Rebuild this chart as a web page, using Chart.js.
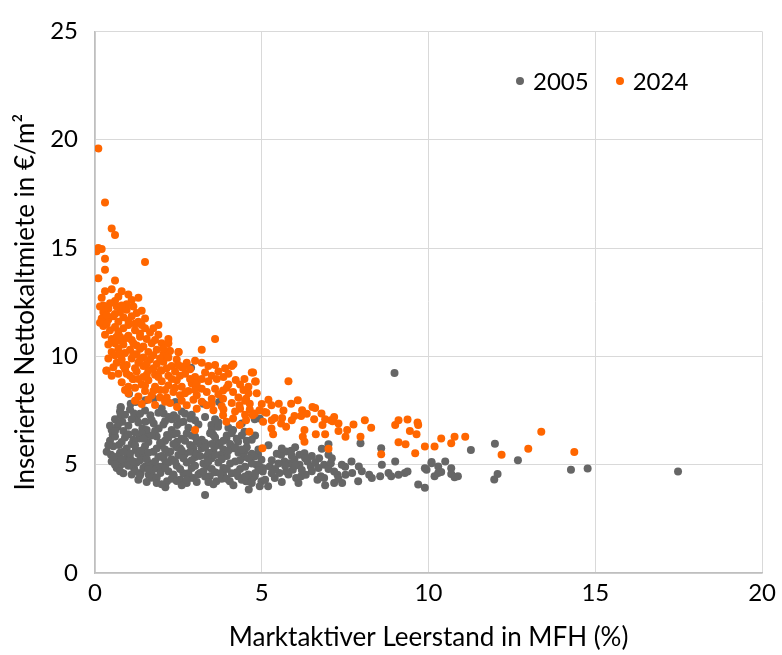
<!DOCTYPE html>
<html>
<head>
<meta charset="utf-8">
<script src="https://cdn.jsdelivr.net/npm/chart.js@4.4.1/dist/chart.umd.min.js"></script>
<style>
  html, body { margin: 0; padding: 0; background: #fff; }
  #wrap { position: relative; width: 782px; height: 655px; }
  #legend {
    position: absolute; left: 516px; top: 66px;
    font: 24px Lato, sans-serif; color: #000;
    display: flex; align-items: center;
  }
  #legend span.item { display: flex; align-items: center; margin-right: 27px; }
  #legend i { display: inline-block; width: 8px; height: 8px; border-radius: 50%; margin-right: 9px; }
</style>
</head>
<body>
<div id="wrap">
  <canvas id="chart" width="782" height="655"></canvas>
  <div id="legend"></div>
</div>
<script>
/* Marktaktiver Leerstand (x, %) vs. inserierte Nettokaltmiete (y, EUR/m2) */

const SERIES_NAMES = ["2005", "2024"];
const SERIES_COLORS = ["#666666", "#ff6600"];
const X_TICKS = [0, 5, 10, 15, 20];
const Y_TICKS = [0, 5, 10, 15, 20, 25];

const points2005 = [
  [8.98,9.23],[2.88,9.47],
  [11.27,5.68],[11.99,5.97],[12.68,5.2],[14.27,4.77],[14.77,4.82],[17.48,4.69],
  [10.09,5.12],[10.29,4.92],[10.5,5.15],[10.68,4.84],[10.38,4.66],[9.94,4.77],
  [10.68,4.57],[10.88,4.47],[10.78,4.42],[12.07,4.57],[11.97,4.32],
  [4.79,7.1],[7.96,5.99],[8.58,5.76],[7.0,5.94],[6.8,5.73],[7.0,5.46],
  [4.89,5.46],[4.99,5.23],[4.84,5.0],[5.04,4.84],[5.24,4.92],[4.79,4.47],[4.99,4.24],
  [5.19,4.01],[4.94,4.01],[5.39,4.39],[5.58,5.46],[5.73,5.61],[5.88,5.64],[5.68,5.15],
  [5.83,5.07],[5.98,5.23],[6.13,5.46],[6.28,5.53],[6.13,5.0],[6.37,5.15],[6.47,4.92],
  [5.93,4.77],[5.73,4.69],[5.53,4.62],[6.03,4.39],[6.18,4.47],[6.32,4.54],[6.72,5.3],
  [6.87,5.0],[7.07,5.07],[6.77,4.47],[6.67,4.31],[6.87,4.39],[7.17,4.69],[7.27,4.54],
  [7.17,4.16],[7.41,4.16],[7.51,4.54],[7.71,4.62],[7.69,5.15],[7.91,4.92],[7.89,4.24],
  [8.22,4.54],[8.3,4.39],[8.6,5.0],[8.55,4.47],[8.8,4.62],[9.0,5.15],[8.88,4.47],
  [9.1,4.54],[9.29,4.62],[9.37,4.69],[9.69,4.09],[9.89,3.93],[9.89,4.84],[10.09,5.07],
  [10.18,4.47],[10.29,4.62],
  [1.02,8.27],[0.77,7.62],[1.22,7.89],[1.51,7.97],[1.76,8.04],[2.41,7.89],[3.25,7.81],
  [3.72,7.89],[2.86,7.13],[4.94,7.13],
  [0.77,7.66],[1.17,7.36],[0.77,7.28],[1.07,7.81],[0.53,6.37],[0.67,6.75],[0.82,6.98],
  [0.72,5.91],[0.48,5.46],[0.62,5.23],[0.77,5.0],[0.97,5.38],[1.22,5.68],[1.32,6.21],
  [1.42,6.67],[1.51,6.98],[1.66,7.28],[1.76,6.9],[2.06,7.36],[2.21,7.2],[1.91,6.67],
  [2.16,6.37],[1.56,6.37],[1.51,4.92],[1.17,4.84],[1.37,4.62],[1.61,4.54],[1.81,4.84],
  [2.06,5.3],[2.26,5.61],[2.46,6.06],[2.55,5.76],[2.75,6.44],[2.85,5.91],[3.05,6.06],
  [3.2,5.76],[3.35,5.38],[3.55,5.61],[3.74,5.91],[3.94,5.53],[4.14,5.76],[4.29,6.06],
  [4.48,5.61],[4.63,5.3],[4.78,5.38],[4.93,4.92],[5.03,4.69],[4.73,4.39],[4.53,4.24],
  [4.29,4.47],[4.04,4.24],[3.84,4.54],[3.64,4.24],[3.44,4.47],[3.15,4.62],[2.95,4.39],
  [2.75,4.16],[2.55,4.31],[2.36,4.47],[2.16,4.24],[1.96,4.62],[2.11,3.96],[3.3,3.6],
  [4.61,3.86],[3.49,6.83],[3.69,6.75],[4.14,6.6],[4.48,6.52],[3.55,6.37],[3.94,6.21],
  [2.46,6.83],[2.36,7.28],[2.65,6.98],
  [0.75,7.45],[1.05,7.55],[1.25,7.15],[1.5,7.5],[1.7,7.05],[2.0,7.6],[2.3,7.1],[2.6,7.45],[2.9,7.3],
  [0.5,6.6],[0.7,6.9],[0.85,6.55],[1.0,6.8],[1.3,6.95],[1.55,6.6],[1.8,6.55],[2.05,6.85],
  [2.3,6.6],[2.55,6.95],[2.8,6.7],[3.1,6.85],[3.5,6.6],[3.7,6.95],[4.0,6.7],[4.4,6.9],
  [0.45,6.1],[0.6,6.3],[0.8,6.05],[1.0,6.4],[1.15,6.15],[1.4,6.45],[1.6,6.05],[1.85,6.3],
  [2.1,6.1],[2.35,6.4],[2.6,6.2],[2.9,6.35],[3.2,6.15],[3.45,6.45],[3.7,6.0],[3.95,6.35],
  [4.25,6.2],[4.55,6.1],[4.8,6.35],
  [0.35,5.6],[0.55,5.85],[0.75,5.55],[0.95,5.75],[1.1,5.95],[1.3,5.5],[1.5,5.85],[1.75,5.6],
  [2.0,5.9],[2.2,5.55],[2.45,5.8],[2.7,5.5],[2.95,5.75],[3.15,5.95],[3.4,5.55],[3.6,5.85],
  [3.85,5.7],[4.05,5.95],[4.3,5.55],[4.55,5.8],[4.9,5.7],[5.2,5.9],[5.6,5.75],[6.0,5.8],
  [0.5,5.15],[0.7,5.4],[0.9,5.05],[1.05,5.3],[1.25,5.1],[1.45,5.4],[1.65,5.05],[1.9,5.35],
  [2.1,5.0],[2.3,5.25],[2.5,5.45],[2.75,5.1],[3.0,5.35],[3.25,5.05],[3.5,5.3],[3.7,5.1],
  [3.95,5.4],[4.2,5.15],[4.45,5.35],[4.7,5.05],[5.3,5.2],[5.5,5.05],[5.9,5.4],[6.3,5.3],
  [6.6,5.1],[7.1,5.3],
  [0.65,4.85],[0.85,4.6],[1.0,4.95],[1.2,4.7],[1.45,4.85],[1.7,4.6],[1.95,4.9],[2.2,4.7],
  [2.45,4.95],[2.65,4.6],[2.9,4.85],[3.1,4.55],[3.35,4.9],[3.6,4.65],[3.85,4.85],[4.1,4.6],
  [4.35,4.8],[4.6,4.55],[4.9,4.75],[5.4,4.8],[5.8,4.55],[6.0,4.95],[6.5,4.7],[7.0,4.8],
  [7.5,4.9],[8.0,4.7],
  [1.3,4.3],[1.7,4.4],[2.0,4.1],[2.3,4.35],[2.6,4.05],[2.85,4.4],[3.05,4.2],[3.3,4.45],
  [3.55,4.1],[3.8,4.35],[4.15,4.05],[4.4,4.3],[4.7,4.15],[5.1,4.3],[5.6,4.2],[6.1,4.15],
  [6.9,4.05],[7.3,4.35],
  [0.45,6.8],[0.6,7.1],[0.9,7.3],[1.1,7.1],[1.35,7.35],[1.9,7.4],[2.1,7.0],[2.45,7.15],
  [2.7,7.35],[3.0,7.05],[3.3,7.2],[3.6,7.1],[0.4,5.9],[0.55,5.35],[0.6,6.55],[0.9,6.25],
  [1.2,6.5],[1.45,6.2],[1.7,6.35],[1.95,6.0],[2.2,6.25],[2.45,6.45],[2.7,6.1],[3.0,6.3],
  [3.3,6.0],[3.6,6.25],[3.85,6.1],[4.1,6.45],[4.4,6.35],[4.7,6.15],[0.85,5.6],[1.05,5.5],
  [1.2,5.9],[1.4,5.65],[1.6,5.55],[1.85,5.75],[2.1,5.7],[2.35,5.95],[2.6,5.65],[2.85,5.6],
  [3.05,5.5],[3.3,5.8],[3.5,5.95],[3.75,5.45],[4.0,5.65],[4.2,5.8],[4.4,5.7],[4.7,5.5],
  [0.6,5.0],[0.8,5.25],[1.15,5.15],[1.35,5.2],[1.55,5.25],[1.8,5.15],[2.0,5.4],[2.2,5.1],
  [2.4,5.15],[2.65,5.3],[2.9,5.2],[3.15,5.4],[3.4,5.15],[3.6,5.45],[3.8,5.25],[4.05,5.05],
  [4.35,5.2],[4.6,5.3],[0.75,4.7],[1.1,4.55],[1.35,4.5],[1.6,4.8],[1.85,4.4],[2.1,4.85],
  [2.35,4.55],[2.55,4.8],[2.8,4.6],[3.0,4.95],[3.25,4.7],[3.5,4.8],[3.75,4.6],[3.95,4.8],
  [4.25,4.65],[4.5,4.9],[4.8,4.6],[1.55,4.2],[1.85,4.15],[2.45,4.25],[2.75,4.3],[3.4,4.2],
  [3.95,4.35],[4.5,4.45],[5.3,4.6],[5.7,4.95],[6.2,4.75],[6.7,4.85],[5.45,5.5],[6.5,5.4],
  [7.4,5.0]
];

const points2024 = [
  [0.1,19.6],[0.3,17.1],[0.5,15.9],[0.6,15.6],[0.1,15.0],[0.2,14.95],[0.05,14.85],[0.3,14.5],
  [1.5,14.35],[0.3,14.0],[0.1,13.6],[0.6,13.5],[0.3,13.0],[0.5,13.1],[0.8,13.0],[1.0,12.85],
  [0.7,12.75],[0.2,12.7],[1.3,12.7],[1.1,12.6],
  [0.25,12.35],[0.6,12.55],[0.4,12.2],[0.95,12.4],[1.4,12.1],[0.25,12.05],[0.75,12.05],
  [0.95,12.15],[0.2,11.75],[0.4,11.7],[0.55,11.85],[0.7,11.6],[0.85,11.8],[1.1,11.85],
  [1.3,11.6],[1.5,11.75],[1.9,11.45],[0.25,11.4],[0.45,11.2],[0.6,11.35],[0.85,11.3],
  [1.0,11.45],[1.2,11.2],[1.5,11.3],[1.65,11.1],[0.3,11.0],[0.5,10.8],[0.65,10.9],[0.8,10.7],
  [0.95,10.85],[1.1,10.75],[1.35,10.9],[1.55,10.8],[1.9,11.0],[2.2,10.8],[0.6,10.6],
  [0.85,10.55],[1.15,10.6],[1.45,10.45],[1.7,10.6],[2.0,10.6],[2.2,10.6],[0.5,10.2],
  [0.7,10.35],[0.9,10.15],[1.05,10.3],[1.25,10.1],[1.35,10.35],[1.6,10.2],[1.85,10.3],
  [2.05,10.1],[2.25,10.25],[2.5,10.2],[3.2,10.3],[3.6,10.8],[0.4,9.9],[0.65,9.7],[0.8,9.85],
  [0.95,9.6],[1.1,9.9],[1.3,9.7],[1.45,9.55],[1.65,9.85],[1.85,9.65],[2.05,9.75],[2.3,9.55],
  [2.6,9.5],[3.0,9.8],[3.2,9.7],[3.6,9.6],[3.9,9.45],[4.1,9.55],[0.35,9.35],[0.7,9.2],
  [0.9,9.4],[1.05,9.1],[1.25,9.3],[1.45,9.05],[1.6,9.35],[1.8,9.15],[2.0,9.35],[2.2,9.1],
  [2.4,9.3],[2.7,9.2],[3.0,9.05],[3.3,9.25],[3.5,9.1],[4.15,9.64],[4.7,9.26],[0.8,8.8],
  [1.0,8.6],[1.15,8.95],[1.4,8.7],[1.6,8.9],[1.8,8.6],[2.0,8.85],[2.2,8.65],[2.45,8.9],
  [2.6,8.6],[2.9,8.75],[3.05,8.73],[3.4,8.85],[3.6,8.5],[4.0,8.7],[4.22,8.91],[4.48,8.95],
  [4.8,8.84],[3.2,8.5],[3.84,8.42],[1.0,8.3],[1.3,8.15],[1.5,8.4],[1.7,8.2],[1.95,8.45],
  [2.15,8.1],[2.35,8.35],[2.55,8.2],[2.8,8.4],[3.05,8.2],[3.5,8.04],[3.84,8.04],[4.14,8.35],
  [4.3,8.1],[4.53,8.04],[4.6,8.3],[1.4,7.8],[1.8,7.75],[2.1,7.9],[2.46,7.66],[2.75,7.74],
  [3.05,7.58],[3.35,7.74],[3.55,7.51],[4.33,7.74],[4.64,7.81],[4.93,7.51],[4.35,7.58],
  [4.64,7.55],[4.79,7.36],[5.09,7.43],[5.8,8.85],[4.82,8.84],[4.74,9.26],[6.08,7.97],
  [5.88,7.81],[5.51,7.81],[5.29,7.74],[5.14,7.4],[6.21,7.51],[6.18,7.25],[5.98,7.25],
  [6.52,7.66],[6.6,7.62],[6.79,7.36],[7.17,7.2],[7.07,7.05],[5.39,7.16],[5.61,7.16],
  [6.57,7.1],[8.09,7.05],[9.1,7.05],[9.37,7.08],[9.67,6.95],[3.84,7.28],[3.94,6.98],
  [4.14,7.13],[4.34,6.83],[4.53,7.05],[4.73,7.28],[4.63,6.52],[3.0,6.6],[5.04,6.98],
  [5.29,6.67],[5.34,6.4],[5.58,6.9],[5.73,6.75],[6.28,6.6],[6.23,6.29],[6.28,6.06],
  [6.62,6.4],[6.9,6.4],[7.3,6.55],[7.56,6.6],[7.51,6.29],[7.96,6.29],[8.28,6.7],[9.0,6.83],
  [9.44,6.55],[9.69,6.83],[9.64,6.4],[9.1,6.03],[9.31,5.94],[9.89,5.84],[10.18,5.84],
  [9.6,5.53],[8.58,5.48],[7.0,5.73],[5.02,5.76],[10.38,6.21],[10.68,5.99],[10.78,6.29],
  [11.1,6.29],[12.19,5.46],[12.99,5.74],[13.38,6.52],[14.37,5.58],[6.82,6.83],[7.12,7.01],
  [2.66,9.53],[2.22,10.25],[2.51,10.2],[1.97,9.35],[1.13,8.95],[0.34,9.34],
  [0.15,12.3],[0.45,12.45],[0.65,12.3],[0.8,12.35],[1.15,12.3],[1.25,12.0],[0.35,11.9],
  [0.6,11.95],[1.0,11.65],[1.2,11.5],[1.4,11.45],[0.15,11.55],[0.35,11.5],[0.7,11.15],
  [1.35,11.05],[1.75,11.3],[0.4,10.55],[0.75,10.9],[1.0,10.95],[1.25,10.5],[1.8,10.75],
  [2.05,10.35],[0.6,10.05],[0.75,10.1],[1.15,10.1],[1.45,9.95],[1.75,10.05],[1.95,9.9],
  [2.2,9.95],[2.45,9.85],[2.75,9.7],[0.55,9.5],[0.85,9.55],[1.2,9.45],[1.35,9.85],
  [1.55,9.65],[1.75,9.45],[2.15,9.45],[2.5,9.6],[2.85,9.4],[3.4,9.55],[3.7,9.3],[4.0,9.2],
  [0.5,9.1],[0.95,9.2],[1.3,8.95],[1.55,9.15],[1.9,9.05],[2.3,8.95],[2.55,9.1],[2.85,8.95],
  [3.2,8.95],[3.65,8.95],[3.85,9.05],[4.35,8.7],[4.6,8.6],[0.9,8.45],[1.2,8.55],[1.5,8.65],
  [1.75,8.4],[2.1,8.45],[2.4,8.55],[2.7,8.3],[3.0,8.45],[3.35,8.35],[3.7,8.25],[3.95,8.55],
  [4.45,8.45],[4.85,8.3],[1.2,7.95],[1.6,8.0],[1.95,8.1],[2.25,7.85],[2.6,7.95],[2.95,8.0],
  [3.2,7.9],[3.5,7.8],[3.8,7.7],[4.1,7.85],[4.5,7.95],[5.2,8.0],[5.0,7.8],[4.2,7.45],
  [3.85,7.55],[4.5,7.3],[5.3,7.05],[5.65,7.5],[5.9,7.05],[6.35,7.35],[6.9,7.1],[7.3,6.9],
  [7.75,6.85]
];

const FONT = "Lato, 'Open Sans', sans-serif";
const TEXT = "#000000";
const GRID = "#d9d9d9";

function toXY(list) {
  return list.map(p => ({ x: p[0], y: p[1] }));
}

const allSeries = [points2005, points2024];

const datasets = allSeries.map((pts, i) => ({
  label: SERIES_NAMES[i],
  data: toXY(pts),
  backgroundColor: SERIES_COLORS[i],
  borderColor: SERIES_COLORS[i],
  borderWidth: 0,
  pointRadius: 4,
  pointHoverRadius: 4,
  // 2024 drawn above 2005
  order: i === 1 ? 0 : 1
}));

new Chart(document.getElementById("chart").getContext("2d"), {
  type: "scatter",
  data: { datasets },
  options: {
    responsive: false,
    animation: false,
    layout: { padding: { top: 25, right: 14, left: 0, bottom: 0 } },
    plugins: {
      legend: { display: false },
      tooltip: { enabled: false }
    },
    scales: {
      x: {
        type: "linear",
        min: X_TICKS[0],
        max: X_TICKS[X_TICKS.length - 1],
        afterBuildTicks: s => { s.ticks = X_TICKS.map(v => ({ value: v })); },
        afterFit: s => { s.height = 82; },
        grid: { color: GRID, drawTicks: false },
        border: { color: "#bfbfbf", width: 1.5 },
        ticks: { color: TEXT, font: { family: FONT, size: 24 }, padding: 6 },
        title: {
          display: true,
          text: "Marktaktiver Leerstand in MFH (%)",
          color: TEXT,
          font: { family: FONT, size: 26 },
          padding: { top: 0, bottom: 2 }
        }
      },
      y: {
        type: "linear",
        min: Y_TICKS[0],
        max: Y_TICKS[Y_TICKS.length - 1],
        afterBuildTicks: s => { s.ticks = Y_TICKS.map(v => ({ value: v })); },
        afterFit: s => { s.width = 95; },
        grid: { color: GRID, drawTicks: false },
        border: { color: "#bfbfbf", width: 1.5 },
        ticks: { color: TEXT, font: { family: FONT, size: 24 }, padding: 17 },
        title: {
          display: true,
          text: "Inserierte Nettokaltmiete in €/m²",
          color: TEXT,
          font: { family: FONT, size: 26 },
          padding: { top: 10, bottom: 0 }
        }
      }
    }
  }
});

/* legend inside the plot, top right */
const legendEl = document.getElementById("legend");
SERIES_NAMES.forEach((name, i) => {
  const item = document.createElement("span");
  item.className = "item";
  item.innerHTML = '<i style="background:' + SERIES_COLORS[i] + '"></i>' + name;
  legendEl.appendChild(item);
});
</script>
</body>
</html>
